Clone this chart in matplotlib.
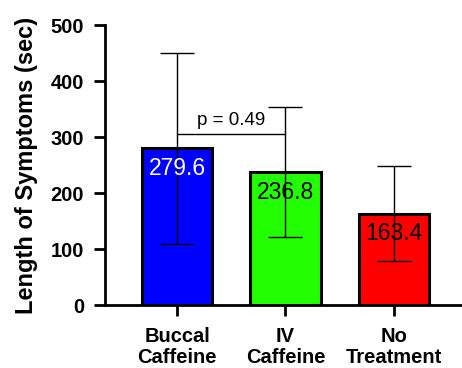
import numpy as np
import matplotlib
matplotlib.use("Agg")
import matplotlib.pyplot as plt

plt.rcParams['font.family'] = ['Liberation Sans', 'DejaVu Sans']

# data
groups = ['Buccal\nCaffeine', 'IV\nCaffeine', 'No\nTreatment']
means = [279.6, 236.8, 163.4]
sd = [170, 116, 85]
colors = ['#0000ff', '#22ff00', '#ff0000']
label_colors = ['white', 'black', 'black']
p_text = 'p = 0.49'
bracket_y = 305

fig = plt.figure(figsize=(4.62, 3.68), dpi=100)
ax = fig.add_axes([0.227, 0.171, 0.773, 0.761])

x = np.arange(len(groups))
ax.bar(x, means, width=0.65, color=colors, edgecolor='black', linewidth=2.2, zorder=2)
ax.errorbar(x, means, yerr=sd, fmt='none', ecolor='black', elinewidth=1,
            capsize=12.5, capthick=1, zorder=3)

for xi, m, c in zip(x, means, label_colors):
    ax.annotate(f'{m:.1f}', (xi, m), xytext=(0, -6), textcoords='offset points',
                ha='center', va='top', fontsize=16.5, color=c, zorder=4)

# significance bracket
ax.plot([x[0], x[1]], [bracket_y, bracket_y], color='black', lw=1, zorder=3)
ax.text((x[0] + x[1]) / 2, bracket_y + 10, p_text, ha='center', va='bottom', fontsize=13.5)

ax.set_ylim(0, 500)
ax.set_xlim(-0.667, 2.63)
ax.set_yticks([0, 100, 200, 300, 400, 500])
ax.set_xticks(x)
ax.set_xticklabels(groups, fontweight='bold', fontsize=14.5, linespacing=1.1)
for t in ax.get_yticklabels():
    t.set_fontweight('bold')
    t.set_fontsize(14.5)
ax.set_ylabel('Length of Symptoms (sec)', fontweight='bold', fontsize=17, labelpad=9)

ax.spines['top'].set_visible(False)
ax.spines['right'].set_visible(False)
ax.spines['left'].set_linewidth(2)
ax.spines['bottom'].set_linewidth(2)
ax.tick_params(axis='both', width=2, length=8)
ax.tick_params(axis='x', pad=8)
ax.tick_params(axis='y', pad=7)

fig.savefig('out.png', dpi=100)
